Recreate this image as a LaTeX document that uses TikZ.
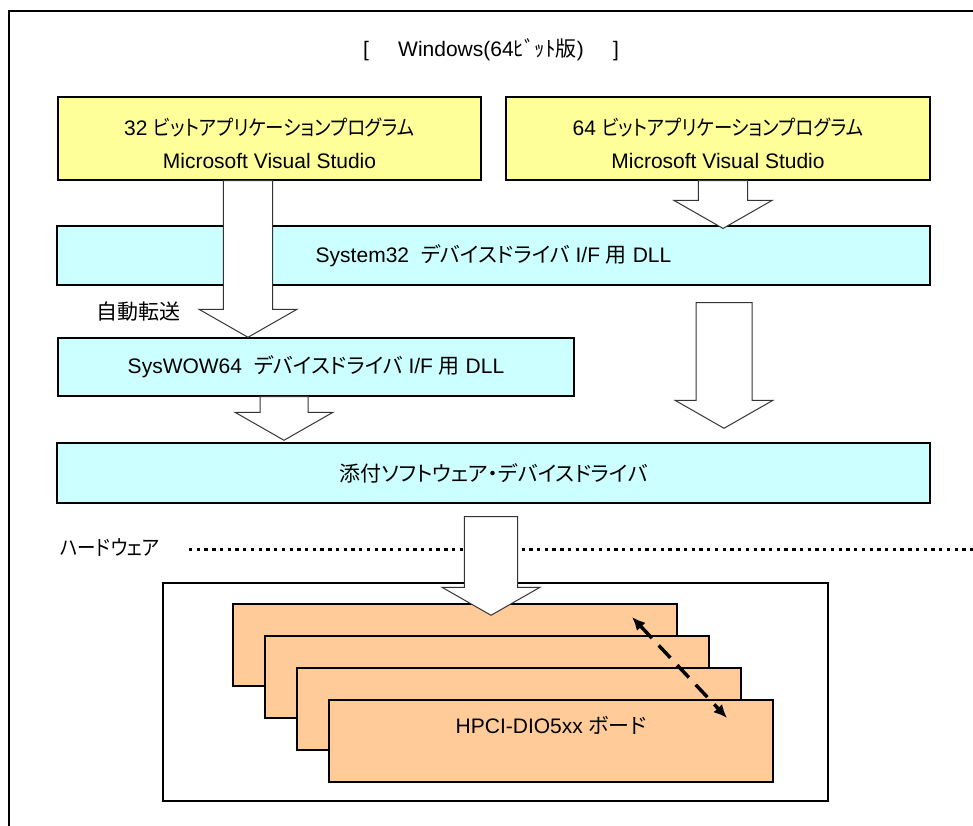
\documentclass[tikz,border=0pt]{standalone}
\usepackage{fontspec}
\setmainfont{Liberation Sans}
\newfontfamily\jp[RawFeature=+palt]{Noto Sans CJK JP}
\newfontfamily\jpn[RawFeature=+palt,FakeStretch=0.88]{Noto Sans CJK JP}
\usetikzlibrary{arrows.meta,calc}

\definecolor{appyellow}{HTML}{FFFF99}
\definecolor{dllcyan}{HTML}{CCFFFF}
\definecolor{boardorange}{HTML}{FFCC99}

\tikzset{
  txt/.style={font=\fontsize{15.75}{24.75}\selectfont},
  layer/.style={txt, draw=black, line width=1.1pt, inner sep=0pt, minimum height=44pt},
  app/.style={layer, fill=appyellow, minimum height=62.25pt, align=center},
  dll/.style={layer, fill=dllcyan},
  board/.style={draw=black, line width=1.1pt, fill=boardorange,
    minimum width=333pt, minimum height=61.5pt},
  fatarrow/.style={draw=black!80, line width=0.75pt, fill=white},
  sepline/.style={line width=2.25pt, dash pattern=on 2.5pt off 3.3pt},
  linkarrow/.style={{Latex[length=10pt,width=9pt]}-{Latex[length=10pt,width=9pt]},
    line width=2.6pt, dash pattern=on 12.75pt off 7.5pt}
}

% block arrow: from, to, shaft half width
\newcommand\fatarrow[3]{%
  \draw[fatarrow] let \p1=(#1), \p2=(#2) in
    (\x1-#3,\y1) -- (\x1+#3,\y1) -- (\x1+#3,\y2+21pt) -- (\x1+36.75pt,\y2+21pt)
    -- (\x2,\y2) -- (\x1-36.75pt,\y2+21pt) -- (\x1-#3,\y2+21pt) -- cycle;}

\begin{document}
\begin{tikzpicture}[x=0.75pt,y=-0.75pt]
  \clip (0,0) rectangle (973,825);
  \draw[line width=1.5pt] (9,11) rectangle (1100,1000);

  \node[txt] (title) at (491,50) {[\hspace{22pt}Windows(64{\jp ﾋﾞｯﾄ版})\hspace{22pt}]};

  % application layer
  \node[app, minimum width=317.25pt] (app32) at (269.5,138.5) {};
  \node[txt, align=center] (app32text) at ($(app32)+(0,5)$)
    {32 {\jpn ビットアプリケーションプログラム}\\Microsoft Visual Studio};
  \node[app, minimum width=318pt] (app64) at (718,138.5) {};
  \node[txt, align=center] (app64text) at ($(app64)+(0,5)$)
    {64 {\jpn ビットアプリケーションプログラム}\\Microsoft Visual Studio};

  % dll layers
  \node[dll, minimum width=654.75pt] (sys32) at (493.5,255.5)
    {System32\ \ {\jp デバイスドライバ} I/F {\jp 用} DLL};
  \node[dll, minimum width=387pt, minimum height=43.5pt] (wow) at (316,367)
    {SysWOW64\ \ {\jp デバイスドライバ} I/F {\jp 用} DLL};
  \node[txt] (auto) at (138,312) {\jp 自動転送};
  \node[dll, minimum width=654.75pt, minimum height=45pt] (drv) at (493.5,473)
    {\jp 添付ソフトウェア・デバイスドライバ};

  % hardware
  \node[txt] (hwlabel) at (110,548) {\jpn ハードウェア};
  \coordinate (sepleft) at (189,549);
  \coordinate (sepright) at (973,549);
  \draw[sepline] (sepleft) -- (sepright);
  \node[draw=black, line width=1.1pt, minimum width=498.75pt, minimum height=163.5pt]
    (hw) at (495.5,692) {};
  \foreach \i in {0,...,3}
    \node[board] (board\i) at (455+32*\i,645+32*\i) {};
  \node[txt] (boardname) at ($(board3)+(0,-16)$) {HPCI-DIO5xx {\jp ボード}};
  \draw[linkarrow] ($(board0)+(177,-28)$) -- ($(board3)+(176,-23)$);

  % arrows
  \fatarrow{$(app32.south)+(-21.5,0)$}{$(wow.north)+(-68,0)$}{18.4pt}
  \fatarrow{$(app64.south)+(5,0)$}{$(sys32.north)+(229.5,3)$}{18.4pt}
  \fatarrow{$(sys32.south)+(230.5,17)$}{$(drv.north)+(230.5,-14)$}{21pt}
  \fatarrow{$(wow.south)+(-32,0)$}{$(drv.north)+(-209.5,-2)$}{18pt}
  \fatarrow{$(drv.south)+(-2.5,13)$}{$(board0.north)+(36,12)$}{20pt}
\end{tikzpicture}
\end{document}
